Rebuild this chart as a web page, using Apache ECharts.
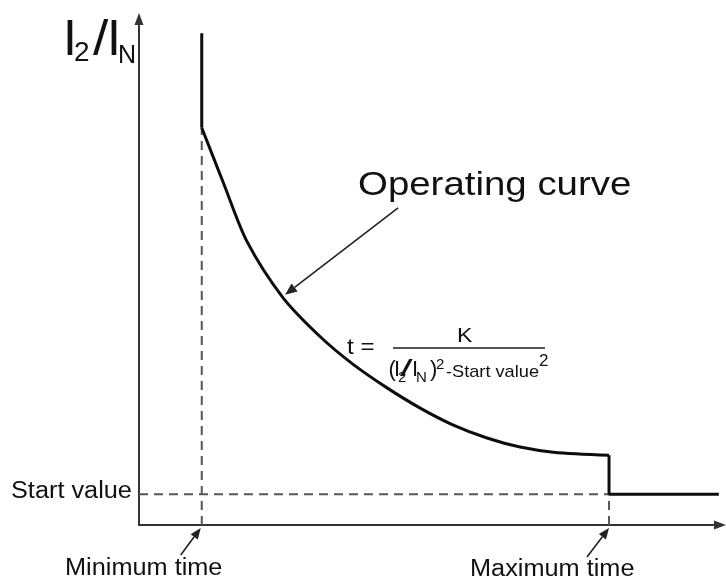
<!DOCTYPE html>
<html><head><meta charset="utf-8">
<script src="https://cdn.jsdelivr.net/npm/echarts@6/dist/echarts.min.js"></script>
<style>html,body{margin:0;padding:0;background:#fff}#c{width:726px;height:579px}</style>
</head><body><div id="c"></div>
<script>
// ---- data (time on x, I2/IN on y, arbitrary units) ----
const minTime = 1.08;
const maxTime = 8.09;
const startValue = 0.61;
const topValue = 9.72;
const tailEnd = 9.98;
const curveT = [1.08, 1.46, 1.86, 2.48, 3.12, 3.68, 4.27, 4.84, 5.40, 5.99, 6.56, 7.13, 8.09];
const curveI = [7.85, 6.74, 5.60, 4.49, 3.72, 3.18, 2.71, 2.31, 1.98, 1.72, 1.54, 1.44, 1.38];

const FONT = '"Liberation Sans", Arial, Helvetica, sans-serif';
const chart = echarts.init(document.getElementById('c'), null, {renderer: 'canvas'});

const curveData = curveT.map((t, i) => [t, curveI[i]]);
const last = curveI.length - 1;

const solid = {color: '#0d0d0d', width: 3};
const dashed = {color: '#555555', width: 2, type: [9, 6]};

chart.setOption({
  animation: false,
  backgroundColor: '#fff',
  grid: {left: 139, right: 6, top: 19, bottom: 54, containLabel: false},
  xAxis: {
    type: 'value', min: 0, max: 10,
    axisLine: {onZero: false, show: true, symbol: ['none', 'triangle'], symbolSize: [9, 12],
      lineStyle: {color: '#333', width: 2}},
    axisTick: {show: false}, axisLabel: {show: false}, splitLine: {show: false}
  },
  yAxis: {
    type: 'value', min: 0, max: 10,
    axisLine: {onZero: false, show: true, symbol: ['none', 'triangle'], symbolSize: [9, 12],
      lineStyle: {color: '#333', width: 2}},
    axisTick: {show: false}, axisLabel: {show: false}, splitLine: {show: false}
  },
  series: [
    {type: 'line', symbol: 'none', lineStyle: dashed, data: [[minTime, 0], [minTime, curveI[0]]], z: 1},
    {type: 'line', symbol: 'none', lineStyle: dashed, data: [[0, startValue], [maxTime, startValue]], z: 1},
    {type: 'line', symbol: 'none', lineStyle: dashed, data: [[maxTime, 0], [maxTime, startValue]], z: 1},
    {type: 'line', symbol: 'none', lineStyle: solid, data: [[minTime, topValue], [minTime, curveI[0]]], z: 3},
    {type: 'line', symbol: 'none', lineStyle: solid, smooth: 0.3, data: curveData, z: 3},
    {type: 'line', symbol: 'none', lineStyle: solid,
      data: [[maxTime, curveI[last]], [maxTime, startValue], [tailEnd, startValue]], z: 3}
  ]
});

// ---- annotations ----
function txt(str, x, baseline, fs, sx, fill) {
  return {type: 'text', x: x, y: baseline - 0.3465 * fs, scaleX: sx || 1, z: 10,
    style: {text: str, font: fs + 'px ' + FONT, fill: fill || '#111',
      textAlign: 'left', textVerticalAlign: 'middle'}};
}
function arrow(x1, y1, x2, y2, head, hw) {
  const dx = x2 - x1, dy = y2 - y1, L = Math.sqrt(dx * dx + dy * dy);
  const ux = dx / L, uy = dy / L;
  const bx = x2 - ux * head, by = y2 - uy * head;
  return [
    {type: 'line', z: 10, shape: {x1: x1, y1: y1, x2: bx, y2: by}, style: {stroke: '#222', lineWidth: 1.6}},
    {type: 'polygon', z: 10, shape: {points: [[x2, y2], [bx - uy * hw, by + ux * hw], [bx + uy * hw, by - ux * hw]]},
      style: {fill: '#222'}}
  ];
}

const pMin = chart.convertToPixel({gridIndex: 0}, [minTime, 0]);
const pMax = chart.convertToPixel({gridIndex: 0}, [maxTime, 0]);
const pCurve = chart.convertToPixel({gridIndex: 0}, [curveT[3], curveI[3]]);

let g = [];
g = g.concat(arrow(pMin[0] - 21, pMin[1] + 30, pMin[0] - 1, pMin[1] + 3, 11, 4.5));
g = g.concat(arrow(pMax[0] - 22, pMax[1] + 32, pMax[0], pMax[1] + 3, 11, 4.5));
g = g.concat(arrow(pCurve[0] + 115, pCurve[1] - 90, pCurve[0] + 2, pCurve[1] - 3, 12, 5));

// Y axis title I2/IN
g.push(txt('I', 63, 59, 50, 1));
g.push(txt('2', 74, 63, 28, 1));
g.push(txt('/', 93, 59, 50, 1.1));
g.push(txt('I', 107, 59, 50, 1));
g.push(txt('N', 118, 65, 25, 1));

g.push(txt('Operating curve', 358, 197, 34, 1.13));
g.push(txt('Start value', 11, 500, 23, 1.1));
g.push(txt('Minimum time', 65, 577, 23, 1.1));
g.push(txt('Maximum time', 470, 578, 23, 1.1));

// formula
g.push(txt('t =', 347, 356, 22, 1.1));
g.push(txt('K', 457, 343, 21, 1.1));
g.push({type: 'line', z: 10, shape: {x1: 393, y1: 348, x2: 545, y2: 348}, style: {stroke: '#555', lineWidth: 2}});
g.push(txt('(', 388.5, 378, 22, 1));
g.push(txt('I', 394, 378, 22, 1));
g.push(txt('2', 398, 383, 15, 1));
g.push(txt('/', 400, 378, 24, 1.9));
g.push(txt('I', 412, 378, 22, 1));
g.push(txt('N', 416, 383, 15, 1));
g.push(txt(')', 430, 378, 22, 1));
g.push(txt('2', 436, 370, 15, 1));
g.push(txt('-Start value', 446, 378, 17, 1.07));
g.push(txt('2', 539, 367, 17, 1));

chart.setOption({graphic: {elements: g}});
</script>
</body></html>
